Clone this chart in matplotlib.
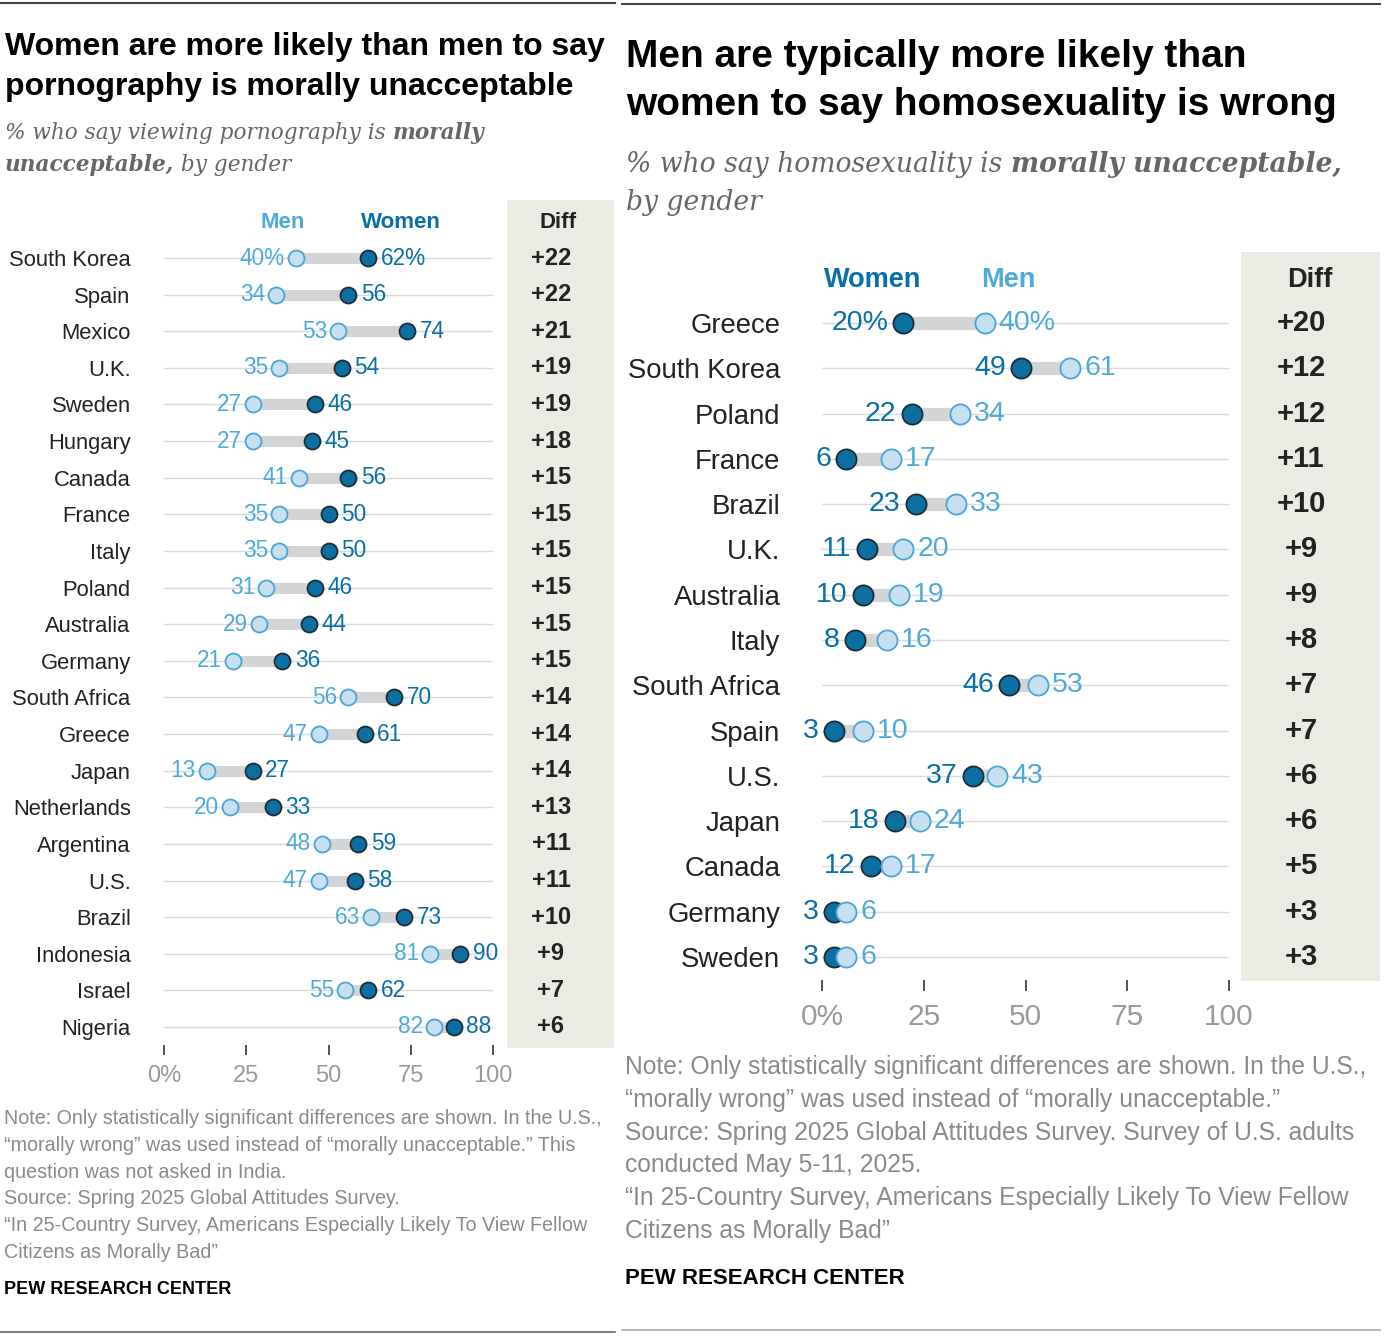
import matplotlib
matplotlib.use('Agg')
import matplotlib.pyplot as plt
from matplotlib.patches import Rectangle
from matplotlib.lines import Line2D

# ---- data: pornography (left panel) ----
porn_countries = ['South Korea', 'Spain', 'Mexico', 'U.K.', 'Sweden', 'Hungary', 'Canada',
                  'France', 'Italy', 'Poland', 'Australia', 'Germany', 'South Africa', 'Greece',
                  'Japan', 'Netherlands', 'Argentina', 'U.S.', 'Brazil', 'Indonesia', 'Israel',
                  'Nigeria']
porn_men = [40, 34, 53, 35, 27, 27, 41, 35, 35, 31, 29, 21, 56, 47, 13, 20, 48, 47, 63, 81, 55, 82]
porn_women = [62, 56, 74, 54, 46, 45, 56, 50, 50, 46, 44, 36, 70, 61, 27, 33, 59, 58, 73, 90, 62, 88]
porn_diff = ['+22', '+22', '+21', '+19', '+19', '+18', '+15', '+15', '+15', '+15', '+15', '+15',
             '+14', '+14', '+14', '+13', '+11', '+11', '+10', '+9', '+7', '+6']

# ---- data: homosexuality (right panel) ----
homo_countries = ['Greece', 'South Korea', 'Poland', 'France', 'Brazil', 'U.K.', 'Australia',
                  'Italy', 'South Africa', 'Spain', 'U.S.', 'Japan', 'Canada', 'Germany', 'Sweden']
homo_women = [20, 49, 22, 6, 23, 11, 10, 8, 46, 3, 37, 18, 12, 3, 3]
homo_men = [40, 61, 34, 17, 33, 20, 19, 16, 53, 10, 43, 24, 17, 6, 6]
homo_diff = ['+20', '+12', '+12', '+11', '+10', '+9', '+9', '+8', '+7', '+7', '+6', '+6', '+5',
             '+3', '+3']

tick_vals = [0, 25, 50, 75, 100]
tick_labels = ['0%', '25', '50', '75', '100']

# colours
MEN_FILL, MEN_EDGE, MEN_TEXT = '#c6e0f2', '#4aa5d6', '#4eaadb'
WOM_FILL, WOM_EDGE, WOM_TEXT = '#0b6fa2', '#1c2c38', '#0a6fa6'
BAR = '#d3d4d5'
GRID = '#dadada'
DIFF_BG = '#ecebe3'
NOTE = '#8a8a8a'

SANS = ['Liberation Sans', 'DejaVu Sans']
SERIF = ['DejaVu Serif']

W, H = 1386, 1336
fig = plt.figure(figsize=(W / 100, H / 100), dpi=100)


def px_axes(x0, x1, y0, y1):
    return fig.add_axes([x0 / W, 1 - y1 / H, (x1 - x0) / W, (y1 - y0) / H])


def ftext(x, y, s, **kw):
    return fig.text(x / W, 1 - y / H, s, **kw)


def rich_line(x, y, parts, size, color):
    r = fig.canvas.get_renderer()
    for s, w in parts:
        t = ftext(x, y, s, fontsize=size, color=color, style='italic', weight=w,
                  family=SERIF, va='center')
        x += t.get_window_extent(r).width


def hrule(x0, x1, y, color, lw):
    fig.add_artist(Line2D([x0 / W, x1 / W], [1 - y / H, 1 - y / H], color=color, lw=lw,
                          transform=fig.transFigure))


def panel(ax, countries, a, b, a_style, b_style, diffs, fs, dot, bar_lw, offs,
          head_a, head_b, head_y, diff_x, head_dx, diff_bg, lab_pad):
    n = len(countries)
    rows = list(range(n))
    for i in rows:
        ax.axhline(i, color=GRID, lw=1, zorder=1)
        ax.plot([a[i], b[i]], [i, i], color=BAR, lw=bar_lw, solid_capstyle='butt', zorder=2)
    for vals, st, z in [(a, a_style, 3), (b, b_style, 4)]:
        ax.scatter(vals, rows, s=dot ** 2, facecolor=st[0], edgecolor=st[1], lw=1.3, zorder=z)
    for i in rows:
        suf = '%' if i == 0 else ''
        ax.annotate(f'{a[i]}{suf}', (a[i], i), xytext=(-offs[0], 0), textcoords='offset points',
                    ha='right', va='center', color=a_style[2], fontsize=fs['val'], family=SANS)
        ax.annotate(f'{b[i]}{suf}', (b[i], i), xytext=(offs[1], 0), textcoords='offset points',
                    ha='left', va='center', color=b_style[2], fontsize=fs['val'], family=SANS)
        ax.text(diff_x, i, diffs[i], transform=ax.get_yaxis_transform(), ha='center',
                va='center', fontsize=fs['diff'], weight='bold', color='#222', family=SANS)
    # headers
    ax.text(head_a[1], head_y, head_a[0], color=a_style[2], ha='center', va='center',
            fontsize=fs['head'], weight='bold', family=SANS)
    ax.text(head_b[1], head_y, head_b[0], color=b_style[2], ha='center', va='center',
            fontsize=fs['head'], weight='bold', family=SANS)
    ax.text(head_dx, head_y, 'Diff', transform=ax.get_yaxis_transform(), ha='center',
            va='center', fontsize=fs['head'], weight='bold', color='#222', family=SANS)
    # diff background
    ax.add_patch(Rectangle((diff_bg[0], diff_bg[2]), diff_bg[1] - diff_bg[0],
                           diff_bg[3] - diff_bg[2], transform=ax.transAxes, clip_on=False,
                           facecolor=DIFF_BG, edgecolor='none', zorder=0))
    ax.set_xlim(0, 100)
    ax.set_ylim(n - 0.5, -0.5)
    for sp in ax.spines.values():
        sp.set_visible(False)
    ax.set_xticks(tick_vals)
    ax.set_xticklabels(tick_labels, family=SANS)
    ax.tick_params(axis='x', length=fs['tick_len'], width=1.3, color='#444', pad=fs['tick_pad'],
                   labelcolor='#9a9a9a', labelsize=fs['tick'])
    ax.set_yticks(rows)
    ax.set_yticklabels(countries, family=SANS)
    ax.tick_params(axis='y', length=0, pad=lab_pad, labelsize=fs['country'], labelcolor='#222')
    ax.patch.set_alpha(0)


def to_ax(px, p0, p1):
    return (px - p0) / (p1 - p0)


# ---- left panel ----
axL = px_axes(164, 493, 239.7, 1045.3)
panel(axL, porn_countries, porn_men, porn_women,
      (MEN_FILL, MEN_EDGE, MEN_TEXT), (WOM_FILL, WOM_EDGE, WOM_TEXT), porn_diff,
      dict(val=16.3, diff=17, head=16, tick=17, country=15.8, tick_len=7, tick_pad=7),
      dot=11.5, bar_lw=8, offs=(8, 9), head_a=('Men', 36), head_b=('Women', 72),
      head_y=-0.96, diff_x=to_ax(551, 164, 493), head_dx=to_ax(558, 164, 493),
      diff_bg=(to_ax(507, 164, 493), to_ax(614, 164, 493),
               1 - to_ax(1048, 239.7, 1045.3), 1 - to_ax(200, 239.7, 1045.3)),
      lab_pad=24)

# ---- right panel ----
axR = px_axes(822, 1229, 300.4, 979.6)
panel(axR, homo_countries, homo_women, homo_men,
      (WOM_FILL, WOM_EDGE, WOM_TEXT), (MEN_FILL, MEN_EDGE, MEN_TEXT), homo_diff,
      dict(val=20.5, diff=21, head=19.5, tick=21.5, country=19.8, tick_len=8, tick_pad=9),
      dot=14.5, bar_lw=9.5, offs=(11, 10), head_a=('Women', 12.5), head_b=('Men', 45.7),
      head_y=-0.95, diff_x=to_ax(1301, 822, 1229), head_dx=to_ax(1310, 822, 1229),
      diff_bg=(to_ax(1241, 822, 1229), to_ax(1380, 822, 1229),
               1 - to_ax(981, 300.4, 979.6), 1 - to_ax(252, 300.4, 979.6)),
      lab_pad=30)

# ---- titles ----
hrule(0, 615, 3, '#444', 1.5)
hrule(622, 1380, 4, '#444', 1.5)
hrule(0, 615, 1332, '#666', 1.2)
hrule(622, 1380, 1330, '#aaa', 1.2)

ftext(5, 47, 'Women are more likely than men to say', fontsize=23, weight='bold',
      family=SANS, va='center', color='black')
ftext(5, 87, 'pornography is morally unacceptable', fontsize=23, weight='bold',
      family=SANS, va='center', color='black')
rich_line(5, 133, [('% who say viewing pornography is ', 'normal'), ('morally', 'bold')], 15.6, '#666')
rich_line(5, 165, [('unacceptable,', 'bold'), (' by gender', 'normal')], 15.6, '#666')

ftext(626, 57, 'Men are typically more likely than', fontsize=28, weight='bold',
      family=SANS, va='center', color='black')
ftext(626, 105, 'women to say homosexuality is wrong', fontsize=28, weight='bold',
      family=SANS, va='center', color='black')
rich_line(626, 165, [('% who say homosexuality is ', 'normal'),
                     ('morally unacceptable,', 'bold')], 19.2, '#666')
rich_line(626, 203, [('by gender', 'normal')], 19.2, '#666')

# ---- notes ----
notes_L = ['Note: Only statistically significant differences are shown. In the U.S.,',
           '\u201cmorally wrong\u201d was used instead of \u201cmorally unacceptable.\u201d This',
           'question was not asked in India.',
           'Source: Spring 2025 Global Attitudes Survey.',
           '\u201cIn 25-Country Survey, Americans Especially Likely To View Fellow',
           'Citizens as Morally Bad\u201d']
for k, s in enumerate(notes_L):
    ftext(4, 1119 + k * 26.6, s, fontsize=14.2, color=NOTE, family=SANS, va='center')
ftext(4, 1290, 'PEW RESEARCH CENTER', fontsize=13, weight='bold', family=SANS,
      va='center', color='black')

notes_R = ['Note: Only statistically significant differences are shown. In the U.S.,',
           '\u201cmorally wrong\u201d was used instead of \u201cmorally unacceptable.\u201d',
           'Source: Spring 2025 Global Attitudes Survey. Survey of U.S. adults',
           'conducted May 5-11, 2025.',
           '\u201cIn 25-Country Survey, Americans Especially Likely To View Fellow',
           'Citizens as Morally Bad\u201d']
for k, s in enumerate(notes_R):
    ftext(625, 1067 + k * 32.8, s, fontsize=17.7, color=NOTE, family=SANS, va='center')
ftext(625, 1278, 'PEW RESEARCH CENTER', fontsize=16, weight='bold', family=SANS,
      va='center', color='black')

fig.savefig('out.png', dpi=100, facecolor='white')
